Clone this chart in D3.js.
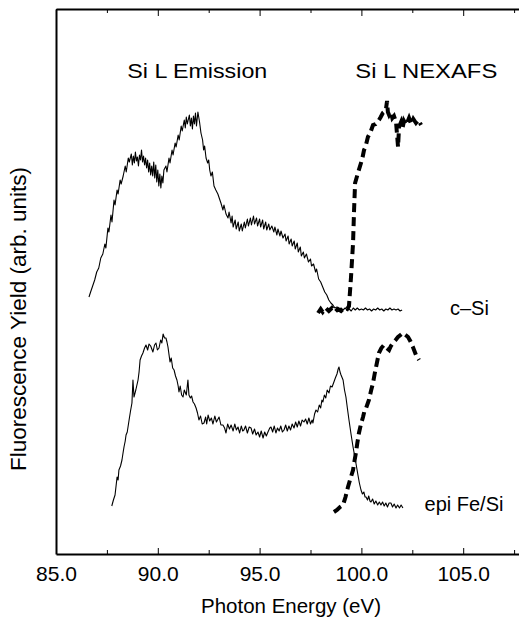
<!DOCTYPE html>
<html>
<head>
<meta charset="utf-8">
<script src="https://cdn.jsdelivr.net/npm/d3@7"></script>
<style>
  body { margin: 0; background: #fff; }
  svg { display: block; }
  text { font-family: "Liberation Sans", Arial, Helvetica, sans-serif; fill: #000; }
</style>
</head>
<body>
<svg id="chart" width="519" height="619"></svg>
<script>
// photon energy (eV), fluorescence yield (arb. units)
var cSiEmission = [
  [86.62,257],[86.70,262],[86.80,268],[86.90,274],[87.00,282],[87.10,286],[87.20,296],[87.30,300],
  [87.40,310],[87.45,306],[87.55,326],[87.60,322],[87.70,339],[87.75,332],[87.85,354],[87.90,349],
  [88.00,364],[88.05,360],[88.15,374],[88.20,370],[88.30,378],[88.40,388],[88.45,382],[88.55,396],
  [88.60,392],[88.70,400],[88.75,389],[88.80,398],[88.85,391],[88.90,402],[88.95,393],[89.00,397],
  [89.05,388],[89.10,399],[89.15,394],[89.20,404],[89.25,392],[89.30,398],[89.35,389],[89.40,396],
  [89.45,386],[89.50,394],[89.55,382],[89.60,391],[89.65,379],[89.70,388],[89.75,378],[89.80,392],
  [89.85,376],[89.90,389],[89.95,372],[90.00,384],[90.05,368],[90.10,380],[90.15,366],[90.20,378],
  [90.25,371],[90.30,384],[90.40,388],[90.45,382],[90.55,396],[90.60,391],[90.70,404],[90.75,399],
  [90.85,411],[90.90,407],[91.00,419],[91.05,414],[91.15,428],[91.20,423],[91.30,434],[91.35,426],
  [91.40,437],[91.45,430],[91.55,439],[91.60,428],[91.65,436],[91.70,425],[91.75,438],[91.80,430],
  [91.85,441],[91.90,428],[91.97,442],[92.05,432],[92.12,421],[92.20,414],[92.25,404],[92.30,408],
  [92.37,396],[92.45,391],[92.50,394],[92.55,384],[92.61,378],[92.68,382],[92.76,368],[92.85,364],
  [92.95,360],[93.00,357],[93.10,351],[93.20,344],[93.25,349],[93.35,340],[93.45,336],[93.50,342],
  [93.60,331],[93.65,338],[93.70,327],[93.80,334],[93.85,325],[93.95,332],[94.00,323],[94.10,330],
  [94.15,323],[94.25,332],[94.30,326],[94.40,335],[94.45,328],[94.55,336],[94.60,329],[94.70,338],
  [94.75,330],[94.85,336],[94.90,328],[95.00,335],[95.05,327],[95.15,334],[95.20,325],[95.30,332],
  [95.35,324],[95.45,330],[95.50,324],[95.60,328],[95.70,322],[95.75,327],[95.85,319],[95.90,325],
  [96.00,318],[96.05,323],[96.15,316],[96.25,320],[96.30,313],[96.40,318],[96.45,310],[96.55,315],
  [96.60,308],[96.70,313],[96.75,305],[96.85,311],[96.90,302],[97.00,307],[97.05,298],[97.15,302],
  [97.20,296],[97.30,300],[97.40,292],[97.50,295],[97.55,288],[97.65,290],[97.75,282],[97.80,285],
  [97.90,275],[98.00,272],[98.10,267],[98.20,262],[98.30,259],[98.40,254],[98.50,251],[98.60,249],
  [98.70,246],[98.80,247],[98.90,244],[99.00,246],[99.10,244],[99.20,246],[99.30,244],[99.40,245],
  [99.50,243],[99.60,246],[99.70,244],[99.80,246],[99.90,244],[100.00,245],[100.10,244],[100.20,246],
  [100.30,244],[100.40,245],[100.50,243],[100.60,245],[100.70,244],[100.80,246],[100.90,244],[101.00,245],
  [101.10,243],[101.20,245],[101.30,244],[101.40,246],[101.50,244],[101.60,245],[101.70,244],[101.80,245],
  [101.90,243],[102.00,244]
]

var cSiNexafs = [
  [97.87,241],[98.00,245],[98.10,242],[98.25,246],[98.40,243],[98.55,246],[98.70,242],[98.85,245],
  [99.00,243],[99.15,246],[99.30,245],[99.39,248],[99.49,277],[99.59,311],[99.64,344],[99.69,371],
  [99.83,381],[99.98,391],[100.05,396],[100.13,404],[100.20,407],[100.32,417],[100.45,422],[100.57,429],
  [100.70,430],[100.86,434],[100.95,437],[101.05,441],[101.11,442],[101.20,444],[101.26,453],[101.30,442],
  [101.36,439],[101.45,442],[101.52,436],[101.60,438],[101.70,432],[101.80,407],[101.85,427],[101.95,432],
  [102.02,426],[102.09,433],[102.20,429],[102.34,436],[102.45,430],[102.55,435],[102.68,431],[102.80,434],
  [102.93,429]
]

var epiEmission = [
  [87.74,48],[87.82,54],[87.90,59],[88.00,77],[88.05,74],[88.09,84],[88.17,88],[88.24,94],
  [88.30,102],[88.34,107],[88.40,113],[88.44,119],[88.50,122],[88.59,134],[88.66,143],[88.73,151],
  [88.78,174],[88.83,157],[88.92,164],[89.03,174],[89.08,182],[89.13,194],[89.20,198],[89.27,201],
  [89.35,206],[89.42,209],[89.50,204],[89.57,210],[89.65,208],[89.76,202],[89.84,209],[89.91,211],
  [89.98,204],[90.06,206],[90.14,214],[90.20,211],[90.26,220],[90.33,216],[90.40,216],[90.45,212],
  [90.50,207],[90.60,192],[90.66,196],[90.73,186],[90.80,184],[90.87,178],[90.94,174],[91.00,168],
  [91.04,162],[91.10,168],[91.17,159],[91.24,157],[91.30,164],[91.40,159],[91.48,174],[91.53,159],
  [91.60,156],[91.66,158],[91.73,152],[91.80,150],[91.88,146],[91.95,141],[92.02,134],[92.10,138],
  [92.18,130],[92.27,131],[92.35,137],[92.40,130],[92.47,139],[92.55,133],[92.63,136],[92.71,130],
  [92.80,138],[92.88,132],[93.01,137],[93.10,129],[93.20,129],[93.28,126],[93.35,121],[93.43,130],
  [93.52,125],[93.60,129],[93.70,123],[93.78,130],[93.86,124],[93.94,127],[94.02,121],[94.10,128],
  [94.17,123],[94.23,124],[94.31,128],[94.40,121],[94.49,127],[94.58,126],[94.66,120],[94.75,125],
  [94.83,119],[94.92,122],[95.00,117],[95.08,123],[95.17,116],[95.25,122],[95.33,118],[95.41,122],
  [95.50,126],[95.56,127],[95.64,122],[95.72,128],[95.80,121],[95.88,126],[95.96,123],[96.04,128],
  [96.12,122],[96.20,124],[96.28,129],[96.36,123],[96.44,128],[96.52,124],[96.60,130],[96.69,126],
  [96.77,132],[96.85,127],[96.93,133],[97.01,128],[97.09,134],[97.18,132],[97.26,135],[97.34,130],
  [97.42,136],[97.50,130],[97.58,134],[97.62,131],[97.70,140],[97.77,144],[97.85,142],[97.93,149],
  [98.00,146],[98.06,154],[98.11,152],[98.18,159],[98.25,156],[98.32,164],[98.41,161],[98.48,168],
  [98.56,167],[98.65,172],[98.72,176],[98.80,180],[98.86,185],[98.90,187],[98.95,182],[99.00,179],
  [99.10,174],[99.17,164],[99.24,157],[99.31,146],[99.39,134],[99.49,120],[99.59,107],[99.66,99],
  [99.73,91],[99.78,85],[99.83,79],[99.90,71],[99.98,64],[100.05,60],[100.12,62],[100.18,57],
  [100.23,57],[100.30,54],[100.36,58],[100.42,53],[100.47,52],[100.55,55],[100.63,50],[100.71,53],
  [100.80,49],[100.88,52],[100.96,49],[101.04,52],[101.12,48],[101.20,51],[101.28,47],[101.36,51],
  [101.45,51],[101.53,47],[101.61,50],[101.70,46],[101.78,49],[101.87,46],[101.95,49],[102.04,46]
]

var epiNexafs = [
  [98.65,42],[98.80,44],[98.95,47],[99.10,49],[99.22,57],[99.34,67],[99.47,76],[99.59,84],
  [99.66,93],[99.73,101],[99.80,111],[99.88,121],[99.98,130],[100.08,137],[100.15,143],[100.23,146],
  [100.30,150],[100.37,154],[100.47,163],[100.57,171],[100.65,180],[100.72,187],[100.80,195],[100.86,201],
  [100.98,206],[101.11,209],[101.24,206],[101.36,204],[101.45,208],[101.55,211],[101.68,214],[101.80,217],
  [101.92,219],[102.04,221],[102.17,219],[102.29,217],[102.40,213],[102.53,207],[102.68,199],[102.83,194]
]

var majorTicks = [85, 90, 95, 100, 105]
var minorTicks = [87.5, 92.5, 97.5, 102.5, 107.5]

var headings = [
  {text: "Si L Emission", e: 88.5, v: 476, len: 140},
  {text: "Si L NEXAFS", e: 99.7, v: 476, len: 142}
]
var sampleLabels = [
  {text: "c\u2013Si", e: 104.35, v: 239},
  {text: "epi Fe/Si", e: 103.1, v: 43}
]

var width = 519
var height = 619
var margin = {top: 9, left: 56, bottom: 65}

var svg = d3.select("#chart")

var x = d3.scaleLinear()
  .domain([85, 108])
  .range([margin.left, margin.left + 23 * 20.36])

var y = d3.scaleLinear()
  .domain([0, 545])
  .range([height - margin.bottom, margin.top])

// axes: ticks point inward, no right axis (cropped)
svg.append("g")
  .attr("transform", `translate(0,${y(0)})`)
  .call(d3.axisBottom(x).tickValues(majorTicks).tickSize(-6).tickSizeOuter(0)
    .tickPadding(12).tickFormat(d3.format(".1f")))
  .call(g => g.select(".domain").attr("stroke-width", 2))
  .call(g => g.selectAll("text").attr("font-size", 21).attr("font-family", null))

svg.append("g")
  .attr("transform", `translate(0,${y(0)})`)
  .call(d3.axisBottom(x).tickValues(minorTicks).tickSize(-4).tickSizeOuter(0).tickFormat(""))
  .call(g => g.select(".domain").remove())

svg.append("g")
  .attr("transform", `translate(0,${y(545)})`)
  .call(d3.axisTop(x).tickValues(majorTicks).tickSize(-7).tickSizeOuter(0).tickFormat(""))
  .call(g => g.select(".domain").attr("stroke-width", 2))

svg.append("g")
  .attr("transform", `translate(0,${y(545)})`)
  .call(d3.axisTop(x).tickValues(minorTicks).tickSize(-4).tickSizeOuter(0).tickFormat(""))
  .call(g => g.select(".domain").remove())

svg.append("g")
  .attr("transform", `translate(${margin.left},0)`)
  .call(d3.axisLeft(y).tickValues([]).tickSizeOuter(0))
  .call(g => g.select(".domain").attr("stroke-width", 2))

var line = d3.line()
  .x(d => x(d[0]))
  .y(d => y(d[1]))

// emission spectra, thin solid
svg.selectAll(".emission")
  .data([cSiEmission, epiEmission])
  .join("path")
  .attr("class", "emission")
  .attr("d", line)
  .attr("fill", "none")
  .attr("stroke", "#000")
  .attr("stroke-width", 1.1)
  .attr("stroke-linejoin", "round")

// NEXAFS spectra, heavy dashes
svg.selectAll(".nexafs")
  .data([cSiNexafs, epiNexafs])
  .join("path")
  .attr("class", "nexafs")
  .attr("d", line)
  .attr("fill", "none")
  .attr("stroke", "#000")
  .attr("stroke-width", 4)
  .attr("stroke-dasharray", "9,5")

svg.selectAll(".heading")
  .data(headings)
  .join("text")
  .attr("class", "heading")
  .attr("x", d => x(d.e))
  .attr("y", d => y(d.v))
  .attr("font-size", 21)
  .attr("textLength", d => d.len)
  .attr("lengthAdjust", "spacingAndGlyphs")
  .text(d => d.text)

svg.selectAll(".sample")
  .data(sampleLabels)
  .join("text")
  .attr("class", "sample")
  .attr("x", d => x(d.e))
  .attr("y", d => y(d.v))
  .attr("font-size", 20)
  .text(d => d.text)

svg.append("text")
  .attr("x", 291)
  .attr("y", 613)
  .attr("text-anchor", "middle")
  .attr("font-size", 20.5)
  .text("Photon Energy (eV)")

svg.append("text")
  .attr("transform", "translate(26,319) rotate(-90)")
  .attr("text-anchor", "middle")
  .attr("font-size", 22.5)
  .text("Fluorescence Yield (arb. units)")
</script>
</body>
</html>
